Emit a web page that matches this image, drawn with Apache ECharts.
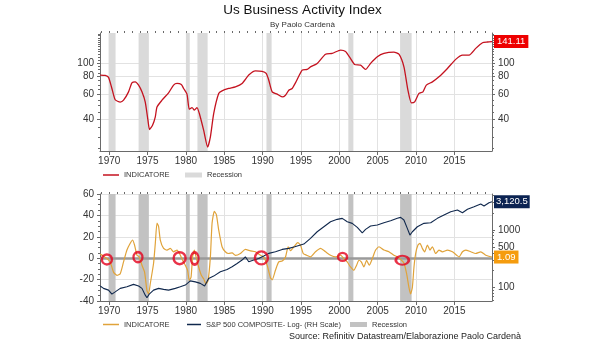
<!DOCTYPE html>
<html>
<head>
<meta charset="utf-8">
<script src="https://cdn.jsdelivr.net/npm/echarts@6/dist/echarts.min.js"></script>
<style>
  html, body { margin: 0; padding: 0; background: #ffffff; }
  #chart { width: 605px; height: 341px; }
</style>
</head>
<body>
<div id="chart"></div>
<script>
// ---- Business activity index (upper panel, log scale) ----
const activityYears = [1968.83, 1969.48, 1969.91, 1970.35, 1970.78, 1971.44, 1971.87, 1972.52, 1972.96, 1973.39,
  1973.83, 1974.27, 1974.70, 1975.05, 1975.26, 1975.65, 1976.01, 1976.23, 1976.88, 1977.74,
  1978.39, 1978.84, 1979.40, 1979.70, 1980.14, 1980.44, 1980.80, 1981.10, 1981.45, 1981.75,
  1982.31, 1982.83, 1983.19, 1983.62, 1984.27, 1984.71, 1985.57, 1986.45, 1987.32, 1988.19,
  1989.06, 1989.93, 1990.46, 1990.80, 1991.24, 1991.89, 1992.55, 1992.98, 1993.41, 1993.85,
  1994.28, 1995.16, 1995.81, 1996.24, 1997.11, 1998.20, 1999.07, 2000.16, 2000.81, 2001.46,
  2001.98, 2002.77, 2003.42, 2004.07, 2004.95, 2005.81, 2007.11, 2007.77, 2008.42, 2008.94,
  2009.39, 2009.82, 2010.38, 2010.90, 2011.34, 2012.13, 2012.99, 2014.09, 2015.17, 2016.05,
  2016.91, 2017.78, 2018.66, 2019.31, 2019.90];
const activityValues = [82, 81.5, 79, 66, 55, 53, 54.6, 62.5, 72.3, 73.5,
  69.7, 62.5, 53, 39.5, 34, 36.4, 41.7, 49, 54.6, 61.5,
  69.7, 71.6, 70.4, 66, 60.2, 47.2, 48.5, 46.5, 48.5, 44,
  33.6, 25.6, 30.2, 44, 60.9, 63.5, 66, 67.8, 71.6, 82,
  87.8, 87, 84.2, 75.5, 62.5, 60.2, 57.6, 59.2, 64.2, 66,
  72.3, 88.8, 89.8, 93.7, 99, 115, 116.5, 122.9, 120, 107,
  97.4, 96.3, 89.8, 99, 110.2, 116.5, 119, 115, 93.7, 64.2,
  52.3, 53.2, 60.9, 62.5, 69.7, 73.5, 79.7, 91.3, 105.7, 113.3,
  113.3, 126.3, 138.3, 140, 141.11];

// ---- Indicator (lower panel, left scale) ----
const indicatorYears = [1968.83, 1969.26, 1969.70, 1970.13, 1970.56, 1971.01, 1971.44, 1971.87, 1972.31, 1972.74,
  1973.04, 1973.30, 1973.62, 1973.92, 1974.27, 1974.61, 1974.92, 1975.13, 1975.35, 1975.78,
  1976.01, 1976.23, 1976.44, 1976.66, 1977.09, 1977.53, 1977.96, 1978.39, 1978.84, 1979.27,
  1979.57, 1979.92, 1980.22, 1980.44, 1980.67, 1980.87, 1981.10, 1981.32, 1981.66, 1982.01,
  1982.31, 1982.62, 1982.89, 1983.19, 1983.41, 1983.71, 1983.97, 1984.27, 1984.71, 1985.14,
  1985.57, 1986.02, 1986.45, 1987.10, 1987.75, 1988.41, 1989.06, 1989.71, 1990.14, 1990.59,
  1991.02, 1991.24, 1991.67, 1992.10, 1992.55, 1992.98, 1993.33, 1993.63, 1994.06, 1994.58,
  1994.93, 1995.29, 1995.72, 1996.24, 1996.89, 1997.55, 1998.20, 1998.85, 1999.50, 2000.16,
  2000.59, 2001.03, 2001.46, 2001.89, 2002.25, 2002.55, 2002.86, 2003.20, 2003.55, 2003.90,
  2004.30, 2004.73, 2005.16, 2005.81, 2006.46, 2007.11, 2007.56, 2007.99, 2008.42, 2008.77,
  2009.07, 2009.29, 2009.52, 2009.73, 2009.95, 2010.25, 2010.51, 2010.82, 2011.12, 2011.48,
  2011.81, 2012.13, 2012.56, 2012.99, 2013.43, 2014.09, 2014.74, 2015.30, 2015.60, 2016.05,
  2016.48, 2017.13, 2017.78, 2018.43, 2019.09, 2019.90];
const indicatorValues = [3.8, 1.9, -0.3, -3.5, -13, -16, -14.5, -3.5, 7.6, 13.9,
  17, 12.3, 2.8, 1.2, -6.6, -13, -30.3, -33.4, -24, -5,
  13.9, 32.8, 29.6, 17, 9.2, 7.6, 9.2, 6, 7.6, 2.8,
  -1.9, -6.6, -11.3, -20.8, -17.7, 1.2, 7.6, 1.2, -8.2, -16,
  -19.2, -24, -20.8, 1.2, 32.8, 43.8, 40.7, 26.5, 10.7, 6,
  4.4, 5, 2.6, 4.4, 8.2, 6.9, 6, 2.8, 1.2, -6.6,
  -18.3, -20.2, -11.3, -3.5, -2.6, 1.2, 10.7, 7, 10.5, 14.5,
  12.3, 4.4, 2.8, 1.2, 6, 9.2, 6, 2.8, 1.2, 2.8,
  -0.3, -3.5, -8.2, -11.3, -6.6, -1.9, -3.5, -8.2, -1.9, -6.6,
  -0.3, 7.6, 10.7, 7.6, 6, 2.8, 1.2, -1.2, -4.4, -14.5,
  -27.2, -33.4, -27.2, -8.2, 4.4, 12.3, 13.9, 9.2, 6, 12.3,
  7.6, 10.7, 4.4, 7.6, 6, 7.6, 6, 2.8, 1.2, 6,
  7.6, 6, 4.4, 6, 2.8, 1.09];

// ---- S&P 500 composite (lower panel, right log scale) ----
const spYears = [1968.83, 1969.26, 1969.91, 1970.35, 1970.78, 1971.44, 1972.31, 1973.17, 1973.83, 1974.27,
  1974.70, 1974.92, 1975.22, 1975.78, 1976.44, 1977.09, 1977.74, 1978.62, 1979.27, 1979.92,
  1980.57, 1981.23, 1981.88, 1982.44, 1982.96, 1983.62, 1984.49, 1985.37, 1986.02, 1986.67,
  1987.32, 1987.75, 1988.19, 1988.84, 1989.49, 1990.14, 1990.80, 1991.67, 1992.55, 1993.41,
  1994.19, 1995.37, 1996.24, 1997.11, 1997.98, 1998.85, 1999.72, 2000.38, 2001.03, 2001.68,
  2002.34, 2002.99, 2003.42, 2004.07, 2004.95, 2005.81, 2006.68, 2007.56, 2007.99, 2008.42,
  2008.86, 2009.20, 2009.52, 2010.17, 2011.03, 2011.91, 2012.78, 2013.64, 2014.52, 2015.39,
  2016.05, 2016.70, 2017.56, 2018.43, 2018.86, 2019.51, 2019.90];
const spValues = [105.6, 96.3, 89.8, 76.5, 83.7, 96.3, 102.6, 113, 105.6, 96.3,
  73.3, 66.2, 76.5, 89.8, 96.3, 92.4, 89.8, 96.3, 102.6, 109.8,
  130, 125, 117.6, 105.6, 143.5, 157.6, 187, 206, 229, 262,
  300, 342, 280, 300, 320, 352, 392, 418, 460, 479,
  512, 570, 716, 934, 1142, 1396, 1537, 1600, 1396, 1308,
  1115, 897, 1029, 1174, 1222, 1341, 1453, 1600, 1665, 1494,
  1071, 818, 934, 1142, 1308, 1341, 1600, 1827, 2087, 2232,
  2004, 2298, 2552, 2843, 2624, 2995, 3120.5];

// ---- US recessions [start, end] ----
const recessions = [[1969.92, 1970.83], [1973.83, 1975.17], [1980.0, 1980.5], [1981.5, 1982.83],
  [1990.5, 1991.17], [2001.17, 2001.83], [2007.92, 2009.42]];

// ---- Highlighted zero crossings of the indicator ----
const crossingYears = [1969.7, 1973.75, 1979.18, 1981.14, 1989.84, 2000.42, 2008.21];
const crossingLevels = [-1.2, 1, 0, -0.3, 0.3, 1.2, -1.9];

// ---- Tick labels ----
const yearTicks = [1970, 1975, 1980, 1985, 1990, 1995, 2000, 2005, 2010, 2015];
const activityTicks = [40, 60, 80, 100];
const spTicks = [100, 500, 1000];

// ---------------------------------------------------------------
const FONT = '"Liberation Sans", Arial, sans-serif';
const X_MIN = 1968.8, X_MAX = 2019.9;
const AXIS_COLOR = '#6a6a6a';
const GRID_COLOR = '#e2e2e2';
const plain = v => String(v);

const pairs = (xs, ys) => xs.map((x, i) => [x, ys[i]]);
const range = (a, b, s) => { const r = []; for (let v = a; v <= b + 1e-9; v += s) r.push(+v.toFixed(6)); return r; };

const yearMinor = range(1969, 2019, 1);
const activityMinor = range(25, 160, 5);
const spMinor = range(60, 90, 10).concat(range(100, 1000, 100), range(2000, 4000, 1000));

function mainYearAxis(gridIndex) {
  return {
    type: 'value', gridIndex, min: X_MIN, max: X_MAX,
    axisLine: { show: true, onZero: false, lineStyle: { color: AXIS_COLOR, width: 1 } },
    axisTick: { show: true, customValues: yearTicks, length: 4, lineStyle: { color: AXIS_COLOR } },
    axisLabel: { customValues: yearTicks, formatter: plain, fontSize: 10, color: '#333', margin: 5, fontFamily: FONT },
    splitLine: { show: true, lineStyle: { color: GRID_COLOR, width: 1 } }
  };
}
function minorYearAxis(gridIndex) {
  return {
    type: 'value', gridIndex, min: X_MIN, max: X_MAX,
    axisLine: { show: false, onZero: false },
    axisTick: { show: true, customValues: yearMinor, length: 2, lineStyle: { color: AXIS_COLOR } },
    axisLabel: { show: false },
    splitLine: { show: false }
  };
}
function logAxis(gridIndex, position, min, max, ticks, labels, split) {
  return {
    type: 'log', logBase: 10, gridIndex, position, min, max,
    axisLine: { show: true, lineStyle: { color: AXIS_COLOR } },
    axisTick: { show: true, customValues: ticks, length: 3, lineStyle: { color: AXIS_COLOR } },
    axisLabel: { show: labels, customValues: ticks, formatter: plain, fontSize: 10, color: '#333', margin: 6, fontFamily: FONT },
    splitLine: { show: split, lineStyle: { color: GRID_COLOR } },
    minorTick: { show: false }, minorSplitLine: { show: false }
  };
}
function minorLogAxis(gridIndex, position, min, max, ticks) {
  return {
    type: 'log', logBase: 10, gridIndex, position, min, max,
    axisLine: { show: false },
    axisTick: { show: true, customValues: ticks, length: 2, lineStyle: { color: AXIS_COLOR } },
    axisLabel: { show: false },
    splitLine: { show: false }
  };
}
function legendAt(left, top, entry, w, h) {
  return {
    left, top, padding: 0, itemWidth: w, itemHeight: h, selectedMode: false,
    textStyle: { fontFamily: FONT, fontSize: 7.5, color: '#333' },
    data: [entry]
  };
}

const chart = echarts.init(document.getElementById('chart'), null, { renderer: 'canvas' });

const recessionAreas = recessions.map(([s, e]) => [{ xAxis: s }, { xAxis: e }]);

const option = {
  backgroundColor: '#ffffff',
  animation: false,
  title: [
    {
      text: 'Us Business Activity Index', subtext: 'By Paolo Cardenà',
      left: 'center', top: 3, padding: 0, itemGap: 4,
      textStyle: { fontFamily: FONT, fontSize: 13.5, fontWeight: 'normal', color: '#111' },
      subtextStyle: { fontFamily: FONT, fontSize: 8, color: '#333' }
    },
    {
      text: 'Source: Refinitiv Datastream/Elaborazione Paolo Cardenà',
      right: 84, top: 332.5, padding: 0,
      textStyle: { fontFamily: FONT, fontSize: 9, fontWeight: 'normal', color: '#222' }
    }
  ],
  grid: [
    { left: 100, right: 113, top: 33, height: 118, outerBoundsMode: 'none' },
    { left: 100, right: 113, top: 194, height: 107, outerBoundsMode: 'none' }
  ],
  legend: [
    legendAt(103, 171, { name: 'INDICATORE', icon: 'rect', itemStyle: { color: '#c4121f' } }, 16, 1.5),
    legendAt(185, 171, { name: 'Recession', icon: 'rect', itemStyle: { color: '#dadada' } }, 17, 5),
    legendAt(103, 320.5, { name: 'INDICATORE', icon: 'rect', itemStyle: { color: '#e0a33a' } }, 16, 1.5),
    legendAt(187, 320.5, { name: 'S&P 500 COMPOSITE- Log- (RH Scale)', icon: 'rect', itemStyle: { color: '#10284d' } }, 14, 1.5),
    legendAt(350, 320.5, { name: 'Recession', icon: 'rect', itemStyle: { color: '#c2c2c2' } }, 17, 5)
  ],
  xAxis: [mainYearAxis(0), minorYearAxis(0), mainYearAxis(1), minorYearAxis(1)],
  yAxis: [
    logAxis(0, 'left', 24, 162, activityTicks, true, true),     // 0
    logAxis(0, 'right', 24, 162, activityTicks, true, false),   // 1
    minorLogAxis(0, 'left', 24, 162, activityMinor),            // 2
    minorLogAxis(0, 'right', 24, 162, activityMinor),           // 3
    {                                                            // 4
      type: 'value', gridIndex: 1, position: 'left', min: -40, max: 60, interval: 20,
      axisLine: { show: true, lineStyle: { color: AXIS_COLOR } },
      axisTick: { show: true, length: 3, lineStyle: { color: AXIS_COLOR } },
      minorTick: { show: true, splitNumber: 4, length: 2, lineStyle: { color: AXIS_COLOR } },
      axisLabel: { fontSize: 10, color: '#333', margin: 6, fontFamily: FONT },
      splitLine: { show: true, lineStyle: { color: GRID_COLOR } }
    },
    logAxis(1, 'right', 58, 4250, spTicks, true, false),        // 5
    minorLogAxis(1, 'right', 58, 4250, spMinor)                 // 6
  ],
  series: [
    {
      name: 'Recession', type: 'line', xAxisIndex: 0, yAxisIndex: 0, data: [],
      symbol: 'none', color: '#dadada', silent: true,
      markArea: { silent: true, z: 1, itemStyle: { color: '#dadada', opacity: 1 }, data: recessionAreas }
    },
    {
      name: 'INDICATORE', type: 'line', xAxisIndex: 0, yAxisIndex: 0,
      data: pairs(activityYears, activityValues),
      symbol: 'none', smooth: 0.2, color: '#c4121f', z: 3,
      lineStyle: { color: '#c4121f', width: 1.3 },
      endLabel: {
        show: true, distance: 2, formatter: p => p.value[1].toFixed(2),
        backgroundColor: '#ee0000', color: '#ffffff', fontFamily: FONT, fontSize: 9.5,
        padding: [2, 3, 1, 3]
      }
    },
    {
      name: 'Recession', type: 'line', xAxisIndex: 2, yAxisIndex: 4, data: [],
      symbol: 'none', color: '#c2c2c2', silent: true,
      markArea: { silent: true, z: 1, itemStyle: { color: '#c2c2c2', opacity: 1 }, data: recessionAreas },
      markLine: {
        silent: true, z: 1, symbol: ['none', 'none'], label: { show: false },
        lineStyle: { color: '#9a9a9a', width: 2.5, type: 'solid' },
        data: [{ yAxis: 0 }]
      }
    },
    {
      name: 'INDICATORE', type: 'line', xAxisIndex: 2, yAxisIndex: 4,
      data: pairs(indicatorYears, indicatorValues),
      symbol: 'none', smooth: 0.2, color: '#e0a33a', z: 3,
      lineStyle: { color: '#e0a33a', width: 1.2 },
      endLabel: {
        show: true, distance: 2, formatter: p => p.value[1].toFixed(2),
        backgroundColor: '#f59c0e', color: '#ffffff', fontFamily: FONT, fontSize: 9.5,
        padding: [2, 3, 1, 3]
      }
    },
    {
      name: 'S&P 500 COMPOSITE- Log- (RH Scale)', type: 'line', xAxisIndex: 2, yAxisIndex: 5,
      data: pairs(spYears, spValues),
      symbol: 'none', color: '#10284d', z: 3,
      lineStyle: { color: '#10284d', width: 1.1 },
      endLabel: {
        show: true, distance: 2,
        formatter: p => echarts.format.addCommas(p.value[1].toFixed(1)),
        backgroundColor: '#0b2352', color: '#ffffff', fontFamily: FONT, fontSize: 9.5,
        padding: [2, 2, 1, 2]
      }
    },
    {
      name: 'zero crossings', type: 'scatter', xAxisIndex: 2, yAxisIndex: 4, z: 5, silent: true,
      data: pairs(crossingYears, crossingLevels),
      symbol: 'circle',
      symbolSize: (v, p) => [[10, 10], [9, 10], [12, 12], [8, 12], [13, 13], [9, 8], [13, 9]][p.dataIndex],
      itemStyle: { color: 'rgba(0,0,0,0)', borderColor: '#e3001b', borderWidth: 2.4 }
    }
  ]
};

chart.setOption(option);
</script>
</body>
</html>
